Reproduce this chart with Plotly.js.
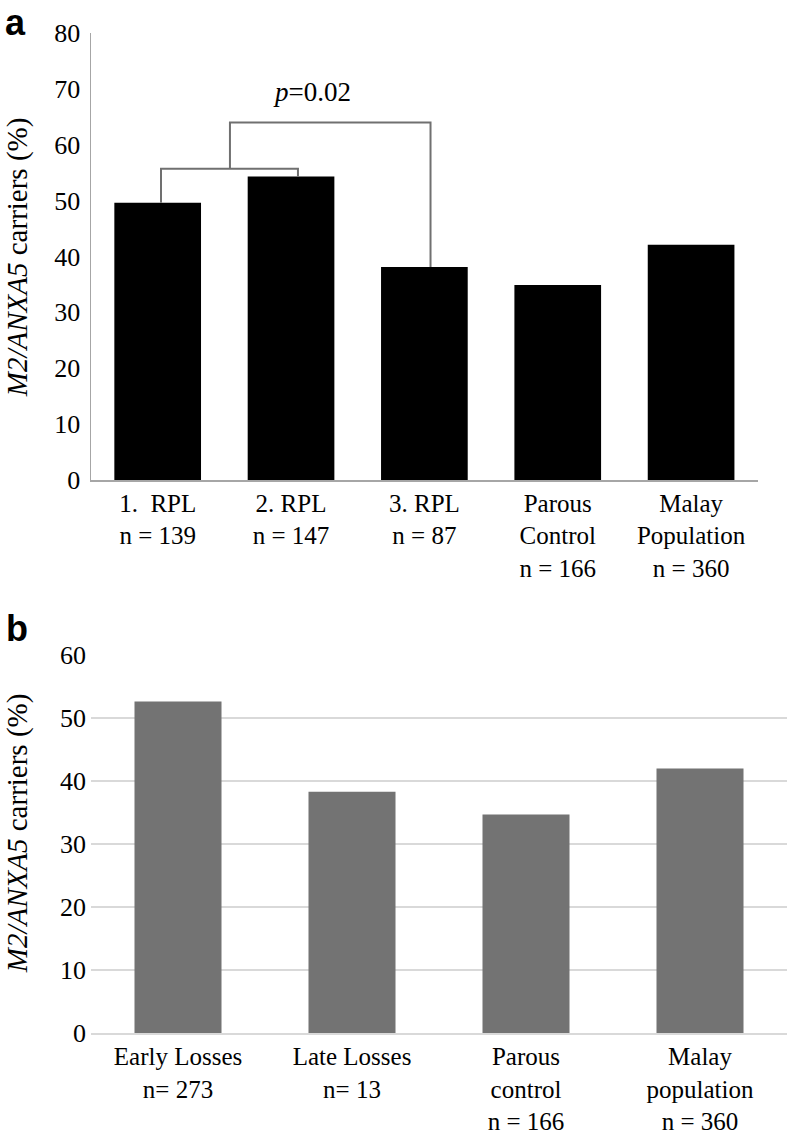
<!DOCTYPE html>
<html>
<head>
<meta charset="utf-8">
<script src="https://cdn.plot.ly/plotly-3.0.1.min.js"></script>
<style>html,body{margin:0;padding:0;background:#fff;}#chart{width:788px;height:1134px;}</style>
</head>
<body>
<div id="chart"></div>
<script>
// Panel a data
const labelsA = ["1.\u00a0 RPL<br>n = 139", "2. RPL<br>n = 147", "3. RPL<br>n = 87", "Parous<br>Control<br>n = 166", "Malay<br>Population<br>n = 360"];
const valuesA = [49.6, 54.3, 38.1, 34.9, 42.1];
const ticksA = [0, 10, 20, 30, 40, 50, 60, 70, 80];

// Panel b data
const labelsB = ["Early Losses<br>n= 273", "Late Losses<br>n= 13", "Parous<br>control<br>n = 166", "Malay<br>population<br>n = 360"];
const valuesB = [52.6, 38.3, 34.7, 42.0];
const ticksB = [0, 10, 20, 30, 40, 50, 60];

// Significance brackets (category index, value)
const innerBracketX = [0.025, 0.025, 1.052, 1.052];
const innerBracketY = [49.6, 55.7, 55.7, 54.3];
const outerBracketX = [0.542, 0.542, 2.046, 2.046];
const outerBracketY = [55.7, 64.0, 64.0, 38.1];
const pLabel = "<i>p</i>=0.02";
const pPos = [1.157, 69.5];

const serif = "'Liberation Serif', 'Times New Roman', serif";
const sans = "'Liberation Sans', Arial, sans-serif";
const idxA = labelsA.map((_, i) => i);
const idxB = labelsB.map((_, i) => i);

const traces = [
  {type: "bar", x: idxA, y: valuesA, width: 0.65, marker: {color: "#000000", line: {width: 0}}, xaxis: "x", yaxis: "y", hoverinfo: "skip"},
  {type: "scatter", mode: "lines", x: innerBracketX, y: innerBracketY, line: {color: "#707070", width: 2}, xaxis: "x", yaxis: "y", hoverinfo: "skip"},
  {type: "scatter", mode: "lines", x: outerBracketX, y: outerBracketY, line: {color: "#707070", width: 2}, xaxis: "x", yaxis: "y", hoverinfo: "skip"},
  {type: "bar", x: idxB, y: valuesB, width: 0.5, marker: {color: "#737373", line: {width: 0}}, xaxis: "x2", yaxis: "y2", hoverinfo: "skip"}
];

const titleText = "<i>M2/ANXA5</i> carriers (%)";

const layout = {
  width: 788, height: 1134,
  margin: {l: 91, r: 1, t: 33, b: 101},
  paper_bgcolor: "#ffffff", plot_bgcolor: "#ffffff",
  showlegend: false,
  font: {family: serif, color: "#000000"},
  xaxis: {
    domain: [0, 0.958], anchor: "y", range: [-0.5, 4.5],
    tickvals: idxA, ticktext: labelsA, ticks: "",
    showline: true, linecolor: "#a6a6a6", linewidth: 1.5,
    showgrid: false, zeroline: false, fixedrange: true,
    tickfont: {family: serif, size: 25, color: "#000"}
  },
  yaxis: {
    domain: [0.553, 1], anchor: "x", range: [0, 80],
    tickvals: ticksA, ticks: "", ticklabelstandoff: 4,
    showline: true, linecolor: "#a6a6a6", linewidth: 1.5,
    showgrid: false, zeroline: false, fixedrange: true,
    tickfont: {family: serif, size: 26, color: "#000"}
  },
  xaxis2: {
    domain: [0, 1], anchor: "y2", range: [-0.5, 3.5],
    tickvals: idxB, ticktext: labelsB, ticks: "",
    showline: true, linecolor: "#d9d9d9", linewidth: 2,
    showgrid: false, zeroline: false, fixedrange: true,
    tickfont: {family: serif, size: 25, color: "#000"}
  },
  yaxis2: {
    domain: [0, 0.378], anchor: "x2", range: [0, 60],
    tickvals: ticksB, ticks: "", ticklabelstandoff: 4,
    showline: false, showgrid: true, gridcolor: "#d9d9d9", gridwidth: 2,
    zeroline: false, fixedrange: true,
    tickfont: {family: serif, size: 26, color: "#000"}
  },
  annotations: [
    {xref: "paper", yref: "paper", x: -0.109, y: 1.033, text: "<b>a</b>", showarrow: false, xanchor: "center", yanchor: "top", font: {family: sans, size: 36, color: "#000"}},
    {xref: "paper", yref: "paper", x: -0.107, y: 0.405, text: "<b>b</b>", showarrow: false, xanchor: "center", yanchor: "middle", font: {family: sans, size: 36, color: "#000"}},
    {xref: "paper", yref: "paper", x: -0.106, y: 0.776, text: titleText, textangle: -90, showarrow: false, xanchor: "center", yanchor: "middle", font: {family: serif, size: 29, color: "#000"}},
    {xref: "paper", yref: "paper", x: -0.106, y: 0.200, text: titleText, textangle: -90, showarrow: false, xanchor: "center", yanchor: "middle", font: {family: serif, size: 29, color: "#000"}},
    {xref: "x", yref: "y", x: pPos[0], y: pPos[1], text: pLabel, showarrow: false, xanchor: "center", yanchor: "middle", font: {family: serif, size: 27, color: "#000"}}
  ]
};

Plotly.newPlot("chart", traces, layout, {staticPlot: true, displayModeBar: false});
</script>
</body>
</html>
